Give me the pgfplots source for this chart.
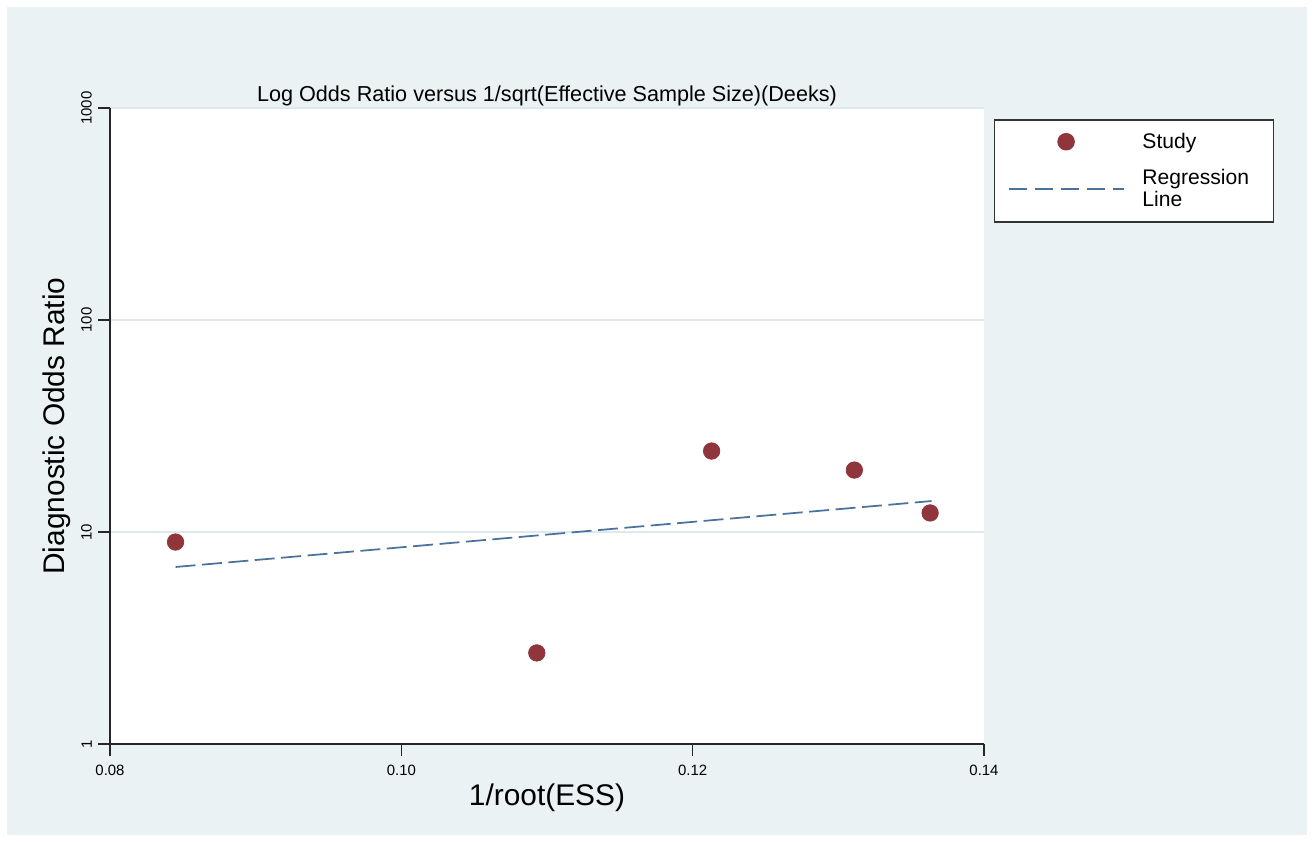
\documentclass[border=0pt]{standalone}
\usepackage{fontspec}
\setmainfont{Liberation Sans}
\usepackage{pgfplots}
\pgfplotsset{compat=1.18}
\definecolor{stbg}{HTML}{EAF2F3}
\definecolor{stgrid}{HTML}{DDE9EF}
\definecolor{stred}{HTML}{90353B}
\definecolor{stline}{HTML}{4A729C}

\begin{document}
\begin{tikzpicture}
% page: 1px = 0.2mm, origin top left
\fill[white] (0,0) rectangle (262.4mm,-168.2mm);
\fill[stbg] (1.4mm,-1.4mm) rectangle (261.4mm,-167mm);
\begin{axis}[
  at={(22mm,-148.8mm)}, anchor=south west,
  width=174.8mm, height=127.2mm, scale only axis,
  xmin=0.08, xmax=0.14,
  ymode=log, ymin=1, ymax=1000,
  axis lines*=left,
  axis line style={line width=0.3mm, black!85},
  axis background/.style={fill=white},
  xtick={0.08,0.10,0.12,0.14},
  xticklabels={0.08,0.10,0.12,0.14},
  ytick={1,10,100,1000},
  yticklabels={1,10,100,1000},
  yminorticks=false,
  tick align=outside,
  major tick length=2.4mm,
  tick style={line width=0.3mm, black!85},
  ticklabel style={font=\fontsize{8.5}{10}\selectfont},
  xticklabel style={yshift=-0.5mm},
  yticklabel style={rotate=90, anchor=south},
  ymajorgrids,
  grid style={stgrid, line width=0.5mm},
  title={Log Odds Ratio versus 1/sqrt(Effective Sample Size)(Deeks)},
  title style={font=\fontsize{12.3}{14}\selectfont, at={(axis description cs:0.5,1)}, anchor=center, yshift=0.4mm},
  xlabel={1/root(ESS)},
  xlabel style={font=\fontsize{17}{20}\selectfont, at={(axis description cs:0.5,0)}, anchor=center, yshift=-10.8mm},
  ylabel={Diagnostic Odds Ratio},
  ylabel style={font=\fontsize{17}{20}\selectfont, at={(axis description cs:-0.0606,0.5)}, anchor=center},
  legend style={at={(axis description cs:1.0114,0.9827)}, anchor=north west,
    draw=black!80, line width=0.3mm, fill=white,
    inner xsep=0pt, inner ysep=2.6mm, row sep=3.7mm, column sep=0pt,
    font=\fontsize{12}{12.5}\selectfont,
    nodes={inner sep=0pt, text width=26.2mm, align=left}},
  legend cell align=left,
]
\addplot[only marks, mark=*, mark size=1.65mm, mark options={fill=stred, draw=stred},
  legend image code/.code={\path (-2.6mm,0) (26.6mm,0); \fill[stred] (11.5mm,0) circle (1.6mm);}]
  coordinates {(0.0845,8.97) (0.1093,2.69) (0.1213,24.1) (0.1311,19.6) (0.1363,12.3)};
\addlegendentry{Study}
\addplot[stline, line width=0.35mm, dash pattern=on 4mm off 1.3mm,
  legend image code/.code={\path (-2.6mm,0) (26.6mm,0) (0,-6mm); \draw[stline, line width=0.35mm, dash pattern=on 3.6mm off 1.6mm] (0,-2.2mm) -- (23mm,-2.2mm);}]
  coordinates {(0.0845,6.84) (0.1364,14.0)};
\addlegendentry{Regression\\Line}
\end{axis}
\end{tikzpicture}
\end{document}
